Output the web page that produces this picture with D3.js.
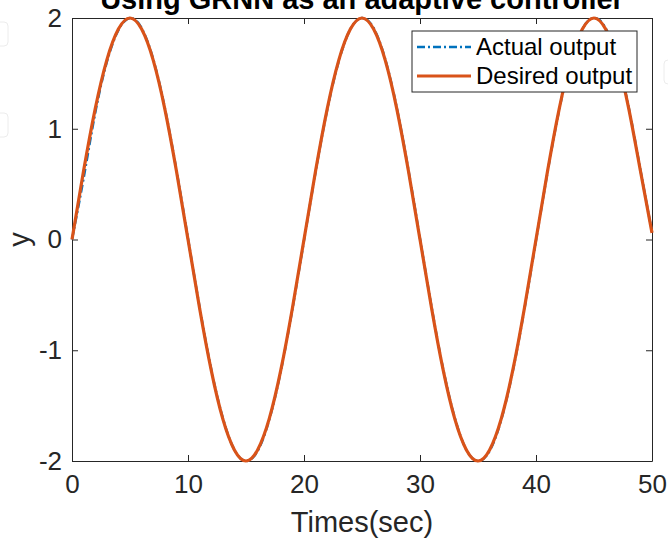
<!DOCTYPE html>
<html>
<head>
<meta charset="utf-8">
<script src="https://cdn.jsdelivr.net/npm/d3@7"></script>
<style>
  body { margin: 0; background: #fff; }
  svg { display: block; font-family: "Liberation Sans", Arial, sans-serif; }
  .axis path, .axis line { stroke: #262626; stroke-width: 1; }
  .axis text { fill: #262626; font-size: 26px; }
</style>
</head>
<body>
<svg id="chart" width="668" height="541"></svg>
<script>
// sample times (sec)
var times = [0,1,2,3,4,5,6,7,8,9,10,11,12,13,14,15,16,17,18,19,20,21,22,23,24,25,
             26,27,28,29,30,31,32,33,34,35,36,37,38,39,40,41,42,43,44,45,46,47,48,49,50];
// desired output
var desired = [0,0.62,1.18,1.62,1.90,2.00,1.90,1.62,1.18,0.62,0,-0.62,-1.18,-1.62,-1.90,-2.00,-1.90,-1.62,-1.18,-0.62,
               0,0.62,1.18,1.62,1.90,2.00,1.90,1.62,1.18,0.62,0,-0.62,-1.18,-1.62,-1.90,-2.00,-1.90,-1.62,-1.18,-0.62,
               0,0.62,1.18,1.62,1.90,2.00,1.90,1.62,1.18,0.62,0.06];
// actual output (lags a bit at the start, then sits on top of desired)
var actual = [0,0.55,1.14,1.60,1.89,2.00,1.91,1.63,1.19,0.63,0.01,-0.61,-1.17,-1.61,-1.90,-2.00,-1.91,-1.63,-1.19,-0.63,
              -0.01,0.61,1.17,1.61,1.90,2.00,1.91,1.63,1.19,0.63,0.01,-0.61,-1.17,-1.61,-1.90,-2.00,-1.91,-1.63,-1.19,-0.63,
              -0.01,0.61,1.17,1.61,1.90,2.00,1.91,1.63,1.19,0.63,0.07];
var xTicks = [0,10,20,30,40,50];
var yTicks = [-2,-1,0,1,2];
var seriesNames = ["Actual output", "Desired output"];

var svg = d3.select("#chart"),
    margin = {top: 18, right: 16, bottom: 80, left: 72},
    width = +svg.attr("width") - margin.left - margin.right,
    height = +svg.attr("height") - margin.top - margin.bottom;

var blue = "#0072bd", orange = "#d95319";
var plain = function(d) { return String(d); }; // keep ascii hyphen like matlab

// faint screen-grab leftovers at the edges
svg.append("rect").attr("x", -10).attr("y", 22).attr("width", 18).attr("height", 24).attr("rx", 4)
  .attr("fill", "none").attr("stroke", "#ececec");
svg.append("rect").attr("x", -10).attr("y", 113).attr("width", 18).attr("height", 24).attr("rx", 4)
  .attr("fill", "none").attr("stroke", "#ececec");
svg.append("rect").attr("x", 664).attr("y", 60).attr("width", 18).attr("height", 24).attr("rx", 4)
  .attr("fill", "none").attr("stroke", "#ececec");

var g = svg.append("g").attr("transform", "translate(" + margin.left + "," + margin.top + ")");

var x = d3.scaleLinear().domain([0, 50]).range([0, width]);
var y = d3.scaleLinear().domain([-2, 2]).range([height, 0]);

// box axes with inward ticks (top/right without labels)
g.append("g").attr("class", "axis")
  .attr("transform", "translate(0," + height + ")")
  .call(d3.axisBottom(x).tickValues(xTicks).tickFormat(plain).tickSizeInner(-6).tickSizeOuter(0).tickPadding(14))
  .call(function(a) { a.selectAll("text").attr("dy", "0.71em"); });
g.append("g").attr("class", "axis")
  .call(d3.axisTop(x).tickValues(xTicks).tickSizeInner(-6).tickSizeOuter(0).tickFormat(""));
g.append("g").attr("class", "axis")
  .call(d3.axisLeft(y).tickValues(yTicks).tickFormat(plain).tickSizeInner(-6).tickSizeOuter(0).tickPadding(10));
g.append("g").attr("class", "axis")
  .attr("transform", "translate(" + width + ",0)")
  .call(d3.axisRight(y).tickValues(yTicks).tickSizeInner(-6).tickSizeOuter(0).tickFormat(""));

var line = d3.line()
  .x(function(d, i) { return x(times[i]); })
  .y(function(d) { return y(d); })
  .curve(d3.curveNatural);

g.append("path")
  .datum(actual)
  .attr("d", line)
  .attr("fill", "none")
  .attr("stroke", blue)
  .attr("stroke-width", 2.4)
  .attr("stroke-dasharray", "8,3,2,3");

g.append("path")
  .datum(desired)
  .attr("d", line)
  .attr("fill", "none")
  .attr("stroke", orange)
  .attr("stroke-width", 3.2);

// title, cut off by the top edge as in the source
svg.append("text")
  .attr("x", margin.left + width / 2)
  .attr("y", 9)
  .attr("text-anchor", "middle")
  .style("font-size", "29px")
  .style("font-weight", "bold")
  .attr("fill", "#000")
  .text("Using GRNN as an adaptive controller");

svg.append("text")
  .attr("x", margin.left + width / 2)
  .attr("y", 532)
  .attr("text-anchor", "middle")
  .style("font-size", "29px")
  .attr("fill", "#262626")
  .text("Times(sec)");

svg.append("text")
  .attr("transform", "translate(29," + (margin.top + height / 2) + ") rotate(-90)")
  .attr("text-anchor", "middle")
  .style("font-size", "29px")
  .attr("fill", "#262626")
  .text("y");

// legend
var lg = svg.append("g").attr("transform", "translate(412,31)");
lg.append("rect")
  .attr("width", 225).attr("height", 61)
  .attr("fill", "#fff").attr("stroke", "#262626").attr("stroke-width", 1);
var rows = lg.selectAll(".row")
  .data(seriesNames)
  .enter().append("g")
  .attr("transform", function(d, i) { return "translate(0," + (16 + i * 29) + ")"; });
rows.append("line")
  .attr("x1", 5).attr("x2", 59)
  .attr("stroke", function(d, i) { return i === 0 ? blue : orange; })
  .attr("stroke-width", function(d, i) { return i === 0 ? 2.6 : 3.2; })
  .attr("stroke-dasharray", function(d, i) { return i === 0 ? "8,3,2,3" : null; });
rows.append("text")
  .attr("x", 64)
  .attr("dy", "0.35em")
  .style("font-size", "24px")
  .attr("fill", "#000")
  .text(function(d) { return d; });
</script>
</body>
</html>
